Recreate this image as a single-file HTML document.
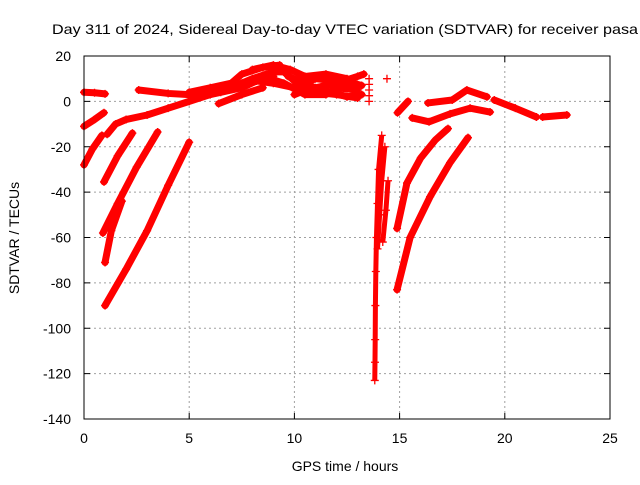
<!DOCTYPE html>
<html><head><meta charset="utf-8"><style>
body{margin:0;background:#fff}
svg text{font-family:"Liberation Sans",sans-serif;font-size:14px;fill:#000}
</style></head><body>
<svg id="chart" width="640" height="480" viewBox="0 0 640 480" xmlns="http://www.w3.org/2000/svg">
<text x="52" y="34" textLength="586" lengthAdjust="spacingAndGlyphs">Day 311 of 2024, Sidereal Day-to-day VTEC variation (SDTVAR) for receiver pasa</text>
<g id="grid"></g>
<g id="ticks"></g>
<g id="marks"></g>
<rect x="84" y="56" width="526" height="363" fill="none" stroke="#000" stroke-width="1"/>
<text x="345" y="471" text-anchor="middle">GPS time / hours</text>
<text transform="translate(19,238) rotate(-90)" text-anchor="middle">SDTVAR / TECUs</text>
</svg>
<script>
const xTicks=[0,5,10,15,20,25];
const yTicks=[20,0,-20,-40,-60,-80,-100,-120,-140];
// tracks: arrays of [hour, SDTVAR]
const trackA=[[0,4],[0.5,3.8],[1,3.3]];
const trackB=[[0,-11],[0.5,-8],[0.95,-5]];
const trackC=[[0,-28],[0.4,-21],[0.85,-15]];
const trackD=[[0.95,-35.5],[1.6,-24],[2.3,-14]];
const trackE=[[0.9,-58],[1.6,-45],[2.5,-29],[3.5,-13.5]];
const trackF=[[1.0,-71],[1.3,-57],[1.8,-44]];
const trackG=[[1.0,-90],[2,-74],[3,-57],[4,-37],[5,-18]];
const trackH=[[1.1,-14.5],[1.5,-10],[2,-8],[3,-6],[4,-3],[5,0],[6,3],[7,6],[8,9],[9,11]];
const trackI=[[2.6,5],[4,3.5],[5,3],[6,5],[7,6],[8,10],[9,13],[9.5,13],[10,9],[11,6],[12,8],[13,11],[13.3,12]];
const trackJ=[[5,4],[6,6],[7,8],[7.5,12],[8.5,15],[9.3,16]];
const trackK=[[7.5,8],[8.5,11],[9.5,8],[10.5,3],[11.5,3],[12,6],[13,5]];
const trackL=[[9.7,11],[10.5,8],[11,10],[12,9],[12.8,8],[13.2,7]];
const trackM=[[10,3],[10.8,6],[11.8,4],[12.5,2],[13.2,3]];
const trackN=[[6.4,-1],[7.5,3],[8.5,6]];
const trackV=[[5.5,2],[6.5,4],[7.5,6],[8.2,9],[9,8],[10,6],[11,4],[12,3],[13,1.5]];
const trackW=[[8,14],[9,16],[9.8,14],[10.5,11],[11.5,12],[12.5,10]];
const dip1=[[14.15,-15],[14.0,-30],[13.95,-45],[13.9,-60],[13.87,-75],[13.85,-90],[13.84,-105],[13.83,-115],[13.82,-123]];
const dip2=[[14.3,-20],[14.15,-35],[14.05,-50],[13.95,-65]];
const dip3=[[14.45,-35],[14.35,-48],[14.2,-62]];
const trackO=[[14.88,-56],[15.35,-36],[16,-25],[16.7,-17],[17.3,-12]];
const trackP=[[14.88,-83],[15.5,-60],[16.45,-42],[17.4,-27],[18.25,-16]];
const trackQ=[[14.9,-5],[15.4,0]];
const trackR=[[15.6,-7.3],[16.4,-9],[17.4,-5.5],[18.35,-3],[19.3,-4.7]];
const trackS=[[16.35,-0.7],[17.5,0.6],[18.2,5],[19.15,2]];
const trackT=[[19.5,0.6],[20.5,-3],[21.5,-6.9]];
const trackU=[[21.8,-6.9],[22.95,-6]];
const cluster1=[[13.55,0],[13.55,2.5],[13.55,5],[13.55,7.5],[13.55,10],[14.4,10]];
const tracks=[trackA,trackB,trackC,trackD,trackE,trackF,trackG,trackH,trackI,trackJ,trackK,trackL,trackM,trackN,trackV,trackW,trackO,trackP,trackQ,trackR,trackS,trackT,trackU];
const dips=[dip1,dip2,dip3];
const NS="http://www.w3.org/2000/svg";
const X=h=>84+h*526/25;
const Y=v=>56+(20-v)*363/160;
function mk(t,a,p){const e=document.createElementNS(NS,t);for(const k in a)e.setAttribute(k,a[k]);p.appendChild(e);return e;}
const grid=document.getElementById('grid'),ticks=document.getElementById('ticks'),marks=document.getElementById('marks');
xTicks.forEach(t=>{const x=X(t);
 if(t>0&&t<25){const l=mk('line',{x1:x,y1:56,x2:x,y2:419,stroke:'#a0a0a0','stroke-dasharray':'2,3'},grid);
 }
 mk('line',{x1:x,y1:419,x2:x,y2:413,stroke:'#000'},ticks);mk('line',{x1:x,y1:56,x2:x,y2:62,stroke:'#000'},ticks);
 const tx=mk('text',{x:x,y:443,'text-anchor':'middle'},ticks);tx.textContent=t;
 });
yTicks.forEach(t=>{const y=Y(t);
 if(t<20&&t>-140){const l=mk('line',{x1:84,y1:y,x2:610,y2:y,stroke:'#a0a0a0','stroke-dasharray':'2,3'},grid);
 }
 mk('line',{x1:84,y1:y,x2:90,y2:y,stroke:'#000'},ticks);mk('line',{x1:610,y1:y,x2:604,y2:y,stroke:'#000'},ticks);
 const tx=mk('text',{x:71,y:y+5,'text-anchor':'end'},ticks);tx.textContent=t;
 });
function plus(h,v){const x=X(h),y=Y(v);const p=mk('path',{d:`M${x-4},${y}h8M${x},${y-4}v8`,stroke:'#f00','stroke-width':1.3},marks);
 }
tracks.forEach(tr=>{const pl=mk('polyline',{points:tr.map(p=>X(p[0])+','+Y(p[1])).join(' '),fill:'none',stroke:'#f00','stroke-width':7,'stroke-linejoin':'round','stroke-linecap':'round'},marks);
 
 tr.forEach(p=>plus(p[0],p[1]));});
dips.forEach(tr=>{const pl=mk('polyline',{points:tr.map(p=>X(p[0])+','+Y(p[1])).join(' '),fill:'none',stroke:'#f00','stroke-width':5,'stroke-linejoin':'round'},marks);
 
 tr.forEach(p=>plus(p[0],p[1]));});
cluster1.forEach(p=>plus(p[0],p[1]));
</script>
</body></html>
